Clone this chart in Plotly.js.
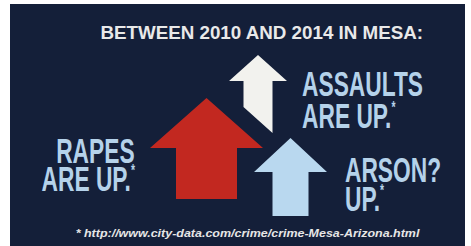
<!DOCTYPE html>
<html>
<head>
<meta charset="utf-8">
<script src="https://cdn.plot.ly/plotly-3.0.1.min.js"></script>
<style>
  html, body { margin: 0; padding: 0; background: #ffffff; }
  #chart { width: 471px; height: 246px; }
</style>
</head>
<body>
<div id="chart"></div>
<script>
// ---- data ----
const crimes = ["Rapes", "Assaults", "Arson?"];
const labelLine1 = ["RAPES", "ASSAULTS", "ARSON?"];
const labelLine2 = ["ARE UP.", "ARE UP.", "UP."];
const trend = ["up", "up", "up"];
const headline = "BETWEEN 2010 AND 2014 IN MESA:";
const footnote = "* http://www.city-data.com/crime/crime-Mesa-Arizona.html";

// ---- layout / geometry (styles & positions) ----
const arrowColors = ["#c22820", "#f2f2ee", "#b9d8ef"];
const arrowGeom = [
  {cx: 206.5, tip: 98,  head: 148, headHalf: 56.5, shaftHalf: 30.5, botL: 199, botR: 199},
  {cx: 258,   tip: 55,  head: 81,  headHalf: 29,   shaftHalf: 14.5, botL: 107, botR: 133},
  {cx: 290.5, tip: 138, head: 172, headHalf: 36.5, shaftHalf: 18,   botL: 216, botR: 216}
];
const labelPos = [
  {x: 137, y1: 150.5, y2: 178.5, anchor: "right"},
  {x: 300, y1: 83.5,  y2: 115.5, anchor: "left"},
  {x: 343, y1: 169,   y2: 198.5, anchor: "left"}
];
const navy = "#141f39";
const textBlue = "#b5d2ea";

function arrowPath(g) {
  const xs = [g.cx, g.cx + g.headHalf, g.cx + g.shaftHalf, g.cx + g.shaftHalf,
              g.cx - g.shaftHalf, g.cx - g.shaftHalf, g.cx - g.headHalf, g.cx];
  const ys = [g.tip, g.head, g.head, g.botR, g.botL, g.head, g.head, g.tip];
  return {xs, ys};
}

const traces = crimes.map((c, i) => {
  const p = arrowPath(arrowGeom[i]);
  return {
    type: "scatter", mode: "lines", name: c + " " + trend[i],
    x: p.xs, y: p.ys, fill: "toself", fillcolor: arrowColors[i],
    line: {width: 0, color: arrowColors[i]}, hoverinfo: "skip", showlegend: false
  };
});

const bigFont = {family: "Liberation Sans, Arial, sans-serif", size: 35, color: textBlue, weight: "bold"};
const star = "<sup><span style=\"font-size:16px\">*</span></sup>";
const annotations = [
  {text: "<b>" + headline + "</b>", x: 261, y: 32.5, xanchor: "center", yanchor: "middle",
   font: {family: "Liberation Sans, Arial, sans-serif", size: 18, color: "#e9e9e9"}, _w: 323}
];
[1, 0, 2].forEach(i => {
  const lp = labelPos[i];
  annotations.push({text: "<b>" + labelLine1[i] + "</b>", x: lp.x, y: lp.y1, xanchor: lp.anchor, yanchor: "middle", font: bigFont});
  annotations.push({text: "<b>" + labelLine2[i] + "</b>" + star, x: lp.x, y: lp.y2, xanchor: lp.anchor, yanchor: "middle", font: bigFont});
});
annotations.push({text: "<b><i>" + footnote + "</i></b>", x: 247.5, y: 233, xanchor: "center", yanchor: "middle",
  font: {family: "Liberation Sans, Arial, sans-serif", size: 11.5, color: "#e6e6e6"}, _w: 345});

const targetWidths = annotations.map(a => a._w || null);
const anchors = annotations.map(a => a.xanchor);
annotations.forEach(a => { delete a._w; a.xref = "x"; a.yref = "y"; a.showarrow = false; });

const layout = {
  width: 471, height: 246,
  margin: {l: 10, r: 6, t: 4, b: 0, pad: 0},
  paper_bgcolor: "#ffffff", plot_bgcolor: navy,
  xaxis: {range: [10, 465], visible: false, fixedrange: true},
  yaxis: {range: [246, 4], visible: false, fixedrange: true},
  showlegend: false,
  annotations: annotations
};

// condensed lettering: squeeze annotation text horizontally around its anchor
const assaultsWidth = 121;
Plotly.newPlot("chart", traces, layout, {staticPlot: true, displayModeBar: false}).then(gd => {
  const groups = Array.from(gd.querySelectorAll("g.annotation"));
  const textOf = idx => {
    const g = groups.find(el => +el.getAttribute("data-index") === idx);
    return g ? g.querySelector("text.annotation-text") : null;
  };
  const ref = textOf(1);
  const bigScale = ref ? assaultsWidth / ref.getBBox().width : 0.7;
  groups.forEach(g => {
    const idx = +g.getAttribute("data-index");
    const t = g.querySelector("text.annotation-text");
    if (!t) return;
    const bb = t.getBBox();
    const s = targetWidths[idx] ? targetWidths[idx] / bb.width : bigScale;
    const a = anchors[idx];
    const ox = a === "left" ? bb.x : (a === "right" ? bb.x + bb.width : bb.x + bb.width / 2);
    const prev = t.getAttribute("transform") || "";
    t.setAttribute("transform", prev + " translate(" + ox + ",0) scale(" + s + ",1) translate(" + (-ox) + ",0)");
  });
});
</script>
</body>
</html>
